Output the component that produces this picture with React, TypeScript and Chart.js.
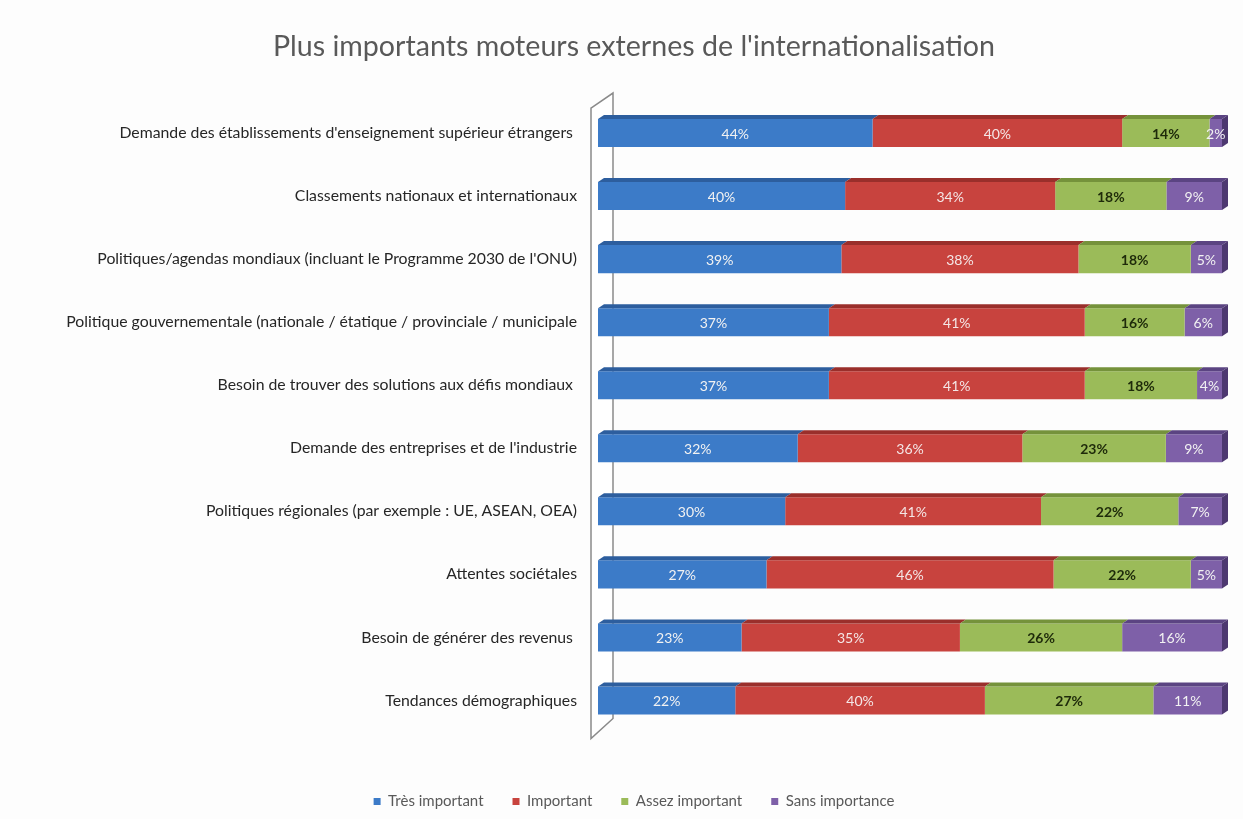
import React, { useEffect, useRef } from "react";
import { Chart, registerables } from "chart.js";

Chart.register(...registerables);

const titleText = "Plus importants moteurs externes de l'internationalisation";

const categories = [
  "Demande des établissements d'enseignement supérieur étrangers ",
  "Classements nationaux et internationaux",
  "Politiques/agendas mondiaux (incluant le Programme 2030 de l'ONU)",
  "Politique gouvernementale (nationale / étatique / provinciale / municipale",
  "Besoin de trouver des solutions aux défis mondiaux ",
  "Demande des entreprises et de l'industrie",
  "Politiques régionales (par exemple : UE, ASEAN, OEA)",
  "Attentes sociétales",
  "Besoin de générer des revenus ",
  "Tendances démographiques",
];

const seriesNames = ["Très important", "Important", "Assez important", "Sans importance"];

const tresImportant = [44, 40, 39, 37, 37, 32, 30, 27, 23, 22];
const important = [40, 34, 38, 41, 41, 36, 41, 46, 35, 40];
const assezImportant = [14, 18, 18, 16, 18, 23, 22, 22, 26, 27];
const sansImportance = [2, 9, 5, 6, 4, 9, 7, 5, 16, 11];

const frontColors = ["#3c7bc8", "#c8433e", "#9bbb59", "#7e60a8"];
const topColors = ["#2d5e9e", "#9a2f2b", "#75923b", "#5b4482"];
const sideColor = "#4d3870";
const labelColors = ["#f2f2f2", "#f4e6e6", "#1e2a0a", "#f2f2f2"];
const labelBold = [false, false, true, false];

const FONT = "Lato, 'Open Sans', sans-serif";

export default function App() {
  const canvasRef = useRef<HTMLCanvasElement | null>(null);

  useEffect(() => {
    const canvas = canvasRef.current;
    if (!canvas) return;

    const raw = [tresImportant, important, assezImportant, sansImportance];
    const totals = categories.map((_, i) => raw.reduce((s, arr) => s + arr[i], 0));

    const datasets = raw.map((arr, k) => ({
      label: seriesNames[k],
      data: arr.map((v, i) => (v / totals[i]) * 100),
      rawValues: arr,
      backgroundColor: frontColors[k],
      borderWidth: 0,
      barPercentage: 0.445,
      categoryPercentage: 1,
    }));

    const depthPlugin = {
      id: "depth3d",
      beforeDatasetsDraw(chart: any) {
        const { ctx, chartArea } = chart;
        const L = chartArea.left;
        const T = chartArea.top;
        const B = chartArea.bottom;
        ctx.save();
        ctx.beginPath();
        ctx.moveTo(L - 7, T + 6.5);
        ctx.lineTo(L + 15, T - 8.5);
        ctx.lineTo(L + 15, B - 13.5);
        ctx.lineTo(L - 7, B + 6.5);
        ctx.closePath();
        ctx.fillStyle = "#ffffff";
        ctx.fill();
        ctx.strokeStyle = "#8a8a8a";
        ctx.lineWidth = 1.5;
        ctx.stroke();
        ctx.restore();
      },
      afterDatasetsDraw(chart: any) {
        const { ctx } = chart;
        const dx = 6;
        const dy = 4;
        const n = chart.data.datasets.length;
        ctx.save();
        chart.data.datasets.forEach((ds: any, di: number) => {
          const meta = chart.getDatasetMeta(di);
          meta.data.forEach((el: any) => {
            const { x, y, base, height } = el.getProps(["x", "y", "base", "height"], true);
            const top = y - height / 2;
            const bottom = y + height / 2;
            ctx.fillStyle = topColors[di];
            ctx.beginPath();
            ctx.moveTo(base, top);
            ctx.lineTo(base + dx, top - dy);
            ctx.lineTo(x + dx, top - dy);
            ctx.lineTo(x, top);
            ctx.closePath();
            ctx.fill();
            if (di === n - 1) {
              ctx.fillStyle = sideColor;
              ctx.beginPath();
              ctx.moveTo(x, top);
              ctx.lineTo(x + dx, top - dy);
              ctx.lineTo(x + dx, bottom - dy);
              ctx.lineTo(x, bottom);
              ctx.closePath();
              ctx.fill();
            }
          });
        });
        ctx.textAlign = "center";
        ctx.textBaseline = "middle";
        chart.data.datasets.forEach((ds: any, di: number) => {
          const meta = chart.getDatasetMeta(di);
          meta.data.forEach((el: any, i: number) => {
            const { x, y, base } = el.getProps(["x", "y", "base"], true);
            ctx.font = `${labelBold[di] ? "bold " : ""}14px ${FONT}`;
            ctx.fillStyle = labelColors[di];
            ctx.fillText(`${ds.rawValues[i]}%`, (base + x) / 2, y + 1);
          });
        });
        ctx.restore();
      },
    };

    const chart = new Chart(canvas, {
      type: "bar",
      data: { labels: categories, datasets: datasets as any },
      plugins: [depthPlugin],
      options: {
        animation: false,
        responsive: true,
        maintainAspectRatio: false,
        indexAxis: "y",
        layout: { padding: { top: 0, left: 46, right: 21, bottom: 0 } },
        scales: {
          x: {
            stacked: true,
            min: 0,
            max: 100,
            display: true,
            ticks: { display: false },
            grid: { display: false, drawTicks: true, tickLength: 33 },
            border: { display: false },
          },
          y: {
            stacked: true,
            grid: { display: false, drawTicks: false },
            border: { display: false },
            ticks: {
              padding: 21,
              color: "#262626",
              font: { family: FONT, size: 15.8 },
            },
            afterFit(scale: any) {
              scale.width = 552;
            },
          },
        },
        plugins: {
          title: {
            display: true,
            text: titleText,
            color: "#595959",
            font: { family: FONT, size: 28.6, weight: "normal" as any },
            padding: { top: 29.8, bottom: 37.4 },
          },
          legend: {
            display: true,
            position: "bottom",
            labels: {
              boxWidth: 7,
              boxHeight: 7,
              padding: 29,
              color: "#595959",
              font: { family: FONT, size: 15 },
            },
          },
          tooltip: { enabled: false },
        },
      },
    });

    return () => chart.destroy();
  }, []);

  return (
    <div
      style={{
        position: "fixed",
        left: 0,
        top: 0,
        width: 1243,
        height: 819,
        background: "#fdfdfd",
      }}
    >
      <canvas ref={canvasRef} />
    </div>
  );
}
